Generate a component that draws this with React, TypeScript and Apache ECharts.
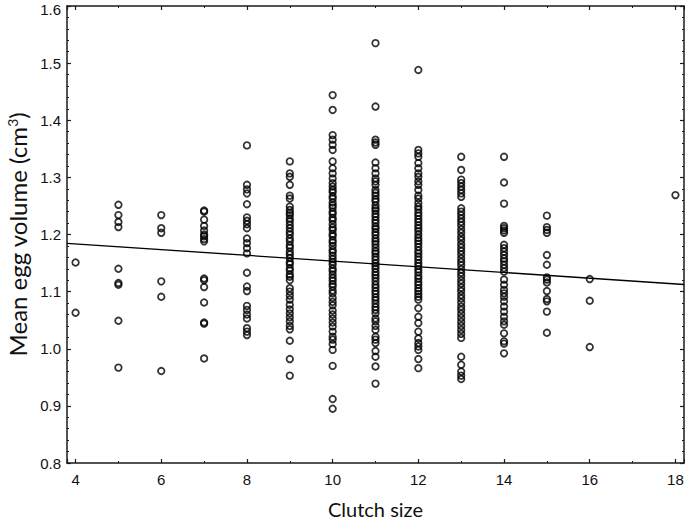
import React, { useEffect, useRef } from "react";
import * as echarts from "echarts";

// Mean egg volume (cm3) observed for each clutch size
const clutchSizes = [4, 5, 6, 7, 8, 9, 10, 11, 12, 13, 14, 15, 16, 18];

const eggs4 = [1.151, 1.063];
const eggs5 = [1.252, 1.234, 1.222, 1.213, 1.14, 1.115, 1.112, 1.049, 0.967];
const eggs6 = [1.234, 1.211, 1.203, 1.118, 1.091, 0.961];
const eggs7 = [1.242, 1.24, 1.226, 1.215, 1.207, 1.2, 1.197, 1.192, 1.188, 1.123, 1.12, 1.108, 1.081, 1.046, 1.044, 0.983];
const eggs8 = [1.356, 1.287, 1.279, 1.272, 1.253, 1.23, 1.224, 1.218, 1.211, 1.193, 1.185, 1.176, 1.167, 1.133, 1.109, 1.101, 1.075, 1.068, 1.06, 1.053, 1.036, 1.03, 1.024];
const eggs9 = [1.328, 1.307, 1.301, 1.287, 1.268, 1.263, 1.249, 1.243, 1.238, 1.234, 1.228, 1.223, 1.217, 1.211, 1.205, 1.2, 1.193, 1.188, 1.181, 1.177, 1.17, 1.165, 1.159, 1.152, 1.148, 1.141, 1.137, 1.13, 1.126, 1.12, 1.106, 1.1, 1.093, 1.086, 1.077, 1.069, 1.062, 1.055, 1.048, 1.04, 1.034, 1.014, 0.982, 0.953];
const eggs10 = [1.444, 1.418, 1.374, 1.366, 1.357, 1.348, 1.328, 1.316, 1.307, 1.298, 1.29, 1.284, 1.278, 1.274, 1.267, 1.263, 1.256, 1.251, 1.247, 1.24, 1.236, 1.229, 1.225, 1.218, 1.212, 1.208, 1.201, 1.197, 1.19, 1.186, 1.18, 1.173, 1.169, 1.163, 1.157, 1.152, 1.147, 1.14, 1.136, 1.13, 1.124, 1.119, 1.113, 1.109, 1.102, 1.097, 1.089, 1.082, 1.076, 1.067, 1.06, 1.053, 1.046, 1.039, 1.03, 1.021, 1.016, 1.008, 0.998, 0.97, 0.912, 0.895];
const eggs11 = [1.535, 1.424, 1.366, 1.361, 1.357, 1.326, 1.316, 1.307, 1.298, 1.293, 1.287, 1.278, 1.273, 1.268, 1.262, 1.258, 1.251, 1.246, 1.242, 1.236, 1.231, 1.225, 1.22, 1.214, 1.21, 1.204, 1.199, 1.193, 1.188, 1.183, 1.177, 1.171, 1.167, 1.161, 1.156, 1.15, 1.145, 1.14, 1.134, 1.129, 1.124, 1.118, 1.112, 1.107, 1.101, 1.096, 1.09, 1.085, 1.079, 1.073, 1.068, 1.062, 1.053, 1.048, 1.04, 1.033, 1.021, 1.016, 1.01, 0.996, 0.986, 0.969, 0.939];
const eggs12 = [1.488, 1.348, 1.342, 1.336, 1.325, 1.316, 1.307, 1.301, 1.293, 1.287, 1.278, 1.268, 1.263, 1.255, 1.249, 1.244, 1.238, 1.233, 1.227, 1.222, 1.216, 1.211, 1.206, 1.2, 1.194, 1.189, 1.184, 1.178, 1.172, 1.167, 1.161, 1.156, 1.15, 1.145, 1.139, 1.134, 1.128, 1.123, 1.117, 1.112, 1.106, 1.101, 1.096, 1.091, 1.086, 1.071, 1.056, 1.045, 1.03, 1.018, 1.01, 1.004, 0.998, 0.982, 0.966];
const eggs13 = [1.336, 1.313, 1.296, 1.29, 1.284, 1.278, 1.272, 1.266, 1.246, 1.24, 1.234, 1.228, 1.222, 1.216, 1.209, 1.203, 1.196, 1.19, 1.183, 1.177, 1.171, 1.165, 1.158, 1.152, 1.146, 1.139, 1.133, 1.127, 1.12, 1.114, 1.107, 1.101, 1.094, 1.088, 1.081, 1.074, 1.068, 1.061, 1.054, 1.047, 1.04, 1.033, 1.026, 1.019, 0.986, 0.972, 0.96, 0.953, 0.947];
const eggs14 = [1.336, 1.291, 1.254, 1.215, 1.211, 1.207, 1.203, 1.182, 1.176, 1.17, 1.164, 1.158, 1.153, 1.147, 1.141, 1.135, 1.121, 1.112, 1.103, 1.097, 1.091, 1.083, 1.074, 1.065, 1.056, 1.048, 1.042, 1.027, 1.013, 1.009, 0.992];
const eggs15 = [1.233, 1.213, 1.208, 1.203, 1.164, 1.147, 1.125, 1.121, 1.116, 1.101, 1.087, 1.083, 1.065, 1.028];
const eggs16 = [1.122, 1.084, 1.003];
const eggs18 = [1.269];

const eggsByClutch = [eggs4, eggs5, eggs6, eggs7, eggs8, eggs9, eggs10, eggs11, eggs12, eggs13, eggs14, eggs15, eggs16, eggs18];

// Fitted regression line end points (clutch size, mean egg volume)
const fitX = [3.8, 18.2];
const fitY = [1.1845, 1.1125];

const xTickLabels = ["4", "6", "8", "10", "12", "14", "16", "18"];

const AXIS_COLOR = "#1a1a1a";
const LABEL_FONT = "'Liberation Sans', Arial, sans-serif";
const NAME_FONT = "Lato, 'Open Sans', sans-serif";

export default function App() {
  const ref = useRef<HTMLDivElement>(null);

  useEffect(() => {
    if (!ref.current) return;
    const chart = echarts.init(ref.current, null, { renderer: "svg" });

    const points: number[][] = [];
    clutchSizes.forEach((c, i) => {
      eggsByClutch[i].forEach((v) => points.push([c, v]));
    });

    const baseX = {
      type: "value" as const,
      min: 3.8,
      max: 18.2,
      splitNumber: 7,
      splitLine: { show: false },
      axisLine: { show: true, lineStyle: { color: AXIS_COLOR, width: 1.5 } },
      axisTick: { show: true, inside: true, length: 4, lineStyle: { color: AXIS_COLOR, width: 1.2 } },
      minorTick: { show: true, splitNumber: 2, length: 2, lineStyle: { color: AXIS_COLOR, width: 1 } },
    };
    const baseY = {
      type: "value" as const,
      min: 0.8,
      max: 1.6,
      interval: 0.1,
      splitLine: { show: false },
      axisLine: { show: true, lineStyle: { color: AXIS_COLOR, width: 1.5 } },
      axisTick: { show: true, inside: true, length: 4, lineStyle: { color: AXIS_COLOR, width: 1.2 } },
      minorTick: { show: true, splitNumber: 5, length: 2, lineStyle: { color: AXIS_COLOR, width: 1 } },
    };

    chart.setOption({
      animation: false,
      backgroundColor: "#ffffff",
      grid: { left: 67, right: 1, top: 6, bottom: 58, containLabel: false, outerBoundsMode: "none" },
      xAxis: [
        {
          ...baseX,
          position: "bottom",
          name: "Clutch size",
          nameLocation: "middle",
          nameGap: 36,
          nameTextStyle: { fontFamily: NAME_FONT, fontSize: 20, lineHeight: 20, color: "#111" },
          axisLabel: {
            show: true,
            margin: 9,
            fontFamily: LABEL_FONT,
            fontSize: 15,
            color: "#111",
            formatter: (v: number) => {
              const s = String(Math.round(v));
              return Math.abs(v - Math.round(v)) < 1e-6 && xTickLabels.includes(s) ? s : "";
            },
          },
        },
        { ...baseX, position: "top", axisLabel: { show: false } },
      ],
      yAxis: [
        {
          ...baseY,
          position: "left",
          name: "{a|Mean egg volume (cm}{s|3}{a|)}",
          nameLocation: "middle",
          nameGap: 35,
          nameRotate: 90,
          nameTextStyle: {
            fontFamily: NAME_FONT,
            fontSize: 24,
            color: "#111",
            rich: {
              a: { fontFamily: NAME_FONT, fontSize: 24, color: "#111" },
              s: { fontFamily: NAME_FONT, fontSize: 14, color: "#111", verticalAlign: "top", padding: [0, 0, 9, 0] },
            },
          },
          axisLabel: {
            show: true,
            margin: 6,
            fontFamily: LABEL_FONT,
            fontSize: 15,
            color: "#111",
            formatter: (v: number) => (v > 1.59 ? "{top|" + v.toFixed(1) + "}" : v.toFixed(1)),
            rich: {
              top: { fontFamily: LABEL_FONT, fontSize: 15, color: "#111", padding: [6, 0, 0, 0] },
            },
          },
        },
        { ...baseY, position: "right", axisLabel: { show: false } },
      ],
      series: [
        {
          type: "scatter",
          xAxisIndex: 0,
          yAxisIndex: 0,
          symbol: "circle",
          symbolSize: 6.5,
          data: points,
          itemStyle: { color: "rgba(255,255,255,0)", borderColor: "#000", borderWidth: 1.8 },
          silent: true,
          z: 3,
        },
        {
          type: "line",
          xAxisIndex: 0,
          yAxisIndex: 0,
          data: fitX.map((x, i) => [x, fitY[i]]),
          symbol: "none",
          lineStyle: { color: "#000", width: 1.3 },
          silent: true,
          z: 4,
        },
      ],
    });

    return () => chart.dispose();
  }, []);

  return (
    <div
      ref={ref}
      style={{ position: "fixed", left: 0, top: 0, width: 685, height: 521, background: "#fff" }}
    />
  );
}
